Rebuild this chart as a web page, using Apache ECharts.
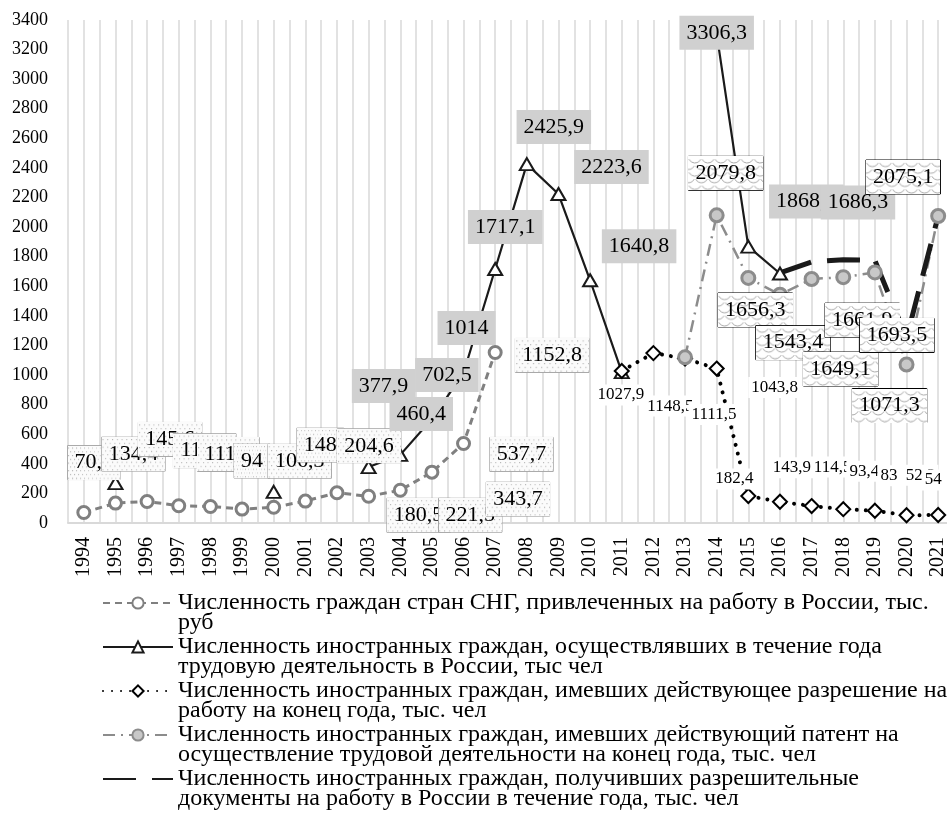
<!DOCTYPE html>
<html>
<head>
<meta charset="utf-8">
<script src="https://cdn.jsdelivr.net/npm/echarts@6/dist/echarts.min.js"></script>
<style>
html, body { margin: 0; padding: 0; background: #fff; }
#chart { width: 947px; height: 835px; }
</style>
</head>
<body>
<div id="chart"></div>
<script>
// years on the category axis
var years = ['1994', '1995', '1996', '1997', '1998', '1999', '2000', '2001', '2002', '2003',
    '2004', '2005', '2006', '2007', '2008', '2009', '2010', '2011', '2012', '2013',
    '2014', '2015', '2016', '2017', '2018', '2019', '2020', '2021'];

// series values, thousand people
var cisWorkers = [70.6, 134.4, 145.6, 116.9, 111.6, 94, 106.3, 148, 204.6, 180.5,
    221.5, 343.7, 537.7, 1152.8, null, null, null, null, null, null,
    null, null, null, null, null, null, null, null];
var foreignWorkers = [null, 270, null, null, null, null, 210, null, null, 377.9,
    460.4, 702.5, 1014, 1717.1, 2425.9, 2223.6, 1640.8, 1020, null, null,
    3306.3, 1868.5, 1686.3, null, null, null, null, null];
var workPermits = [null, null, null, null, null, null, null, null, null, null,
    null, null, null, null, null, null, null, 1027.9, 1148.5, 1111.5,
    1043.8, 182.4, 143.9, 114.5, 93.4, 83, 52.3, 54];
var patents = [null, null, null, null, null, null, null, null, null, null,
    null, null, null, null, null, null, null, null, null, 1120,
    2079.8, 1656.3, 1543.4, 1649.1, 1661.9, 1693.5, 1071.3, 2075.1];
var permitDocs = [null, null, null, null, null, null, null, null, null, null,
    null, null, null, null, null, null, null, null, null, null,
    null, null, 1690, 1765, 1780, 1775, 1250, 2075];

var names = [
    'Численность граждан стран СНГ, привлеченных на работу в России, тыс. руб',
    'Численность иностранных граждан, осуществлявших в течение года трудовую деятельность в России, тыс чел',
    'Численность иностранных граждан, имевших действующее разрешение на работу на конец года, тыс. чел',
    'Численность иностранных граждан, имевших действующий патент на осуществление трудовой деятельности на конец года, тыс. чел',
    'Численность иностранных граждан, получивших разрешительные документы на работу в России в течение года, тыс. чел'
];
var legendText = [
    'Численность граждан стран СНГ, привлеченных на работу в России, тыс.\nруб',
    'Численность иностранных граждан, осуществлявших в течение года\nтрудовую деятельность в России, тыс чел',
    'Численность иностранных граждан, имевших действующее разрешение на\nработу на конец года, тыс. чел',
    'Численность иностранных граждан, имевших действующий патент на\nосуществление трудовой деятельности на конец года, тыс. чел',
    'Численность иностранных граждан, получивших разрешительные\nдокументы на работу в России в течение года, тыс. чел'
];

// where each data label sits relative to its point (layout only)
var cisLabelPos = {1994: [10, -50], 1995: [18, -49], 1996: [23, -62], 1997: [26, -55], 1998: [18, -52],
    1999: [10, -48], 2000: [26, -46], 2001: [15, -56], 2002: [32, -47], 2003: [50, 19],
    2004: [70, 25], 2005: [86, 27], 2006: [58, 11], 2007: [57, 3]};
var foreignLabelPos = {2003: [15, -81], 2004: [21, -41], 2005: [15, -44], 2006: [3, -45], 2007: [10, -42],
    2008: [27, -37], 2009: [53, -27], 2010: [49, -34], 2014: [0, -1], 2015: [58, -45], 2016: [78, -71]};
var permitLabelPos = {2011: [-1, 24], 2012: [17, 53], 2013: [29, 56], 2014: [58, 19], 2015: [-14, -17],
    2016: [12, -34], 2017: [21, -39], 2018: [21, -38], 2019: [14, -35], 2020: [14, -40], 2021: [-5, -35]};
var patentLabelPos = {2014: [9, -42], 2015: [7, 32], 2016: [13, 48], 2017: [29, 90], 2018: [19, 43],
    2019: [22, 63], 2020: [-17, 41], 2021: [-35, -39]};

var serif = 'Liberation Serif';

function makeDots() {
    var c = document.createElement('canvas');
    c.width = 80; c.height = 36;
    var g = c.getContext('2d');
    g.fillStyle = '#fbfbfb';
    g.fillRect(0, 0, 80, 36);
    g.fillStyle = '#b4b4b4';
    for (var y = 2, r = 0; y < 36; y += 4, r++) {
        for (var x = (r % 2) * 3 + 1; x < 80; x += 6) {
            g.fillRect(x, y, 1.2, 1.2);
        }
    }
    return c;
}

function makeScales() {
    var c = document.createElement('canvas');
    c.width = 80; c.height = 36;
    var g = c.getContext('2d');
    g.fillStyle = '#ffffff';
    g.fillRect(0, 0, 80, 36);
    g.strokeStyle = '#a8a8a8';
    g.lineWidth = 1;
    for (var y = 0, r = 0; y < 44; y += 7, r++) {
        for (var x = (r % 2) * 7 - 7; x < 90; x += 14) {
            g.beginPath();
            g.arc(x, y, 7, 0.15 * Math.PI, 0.85 * Math.PI);
            g.stroke();
        }
    }
    return c;
}

function build(values, pos) {
    return values.map(function (v, i) {
        if (v == null) return '-';
        var off = pos[years[i]];
        if (off) return {value: v, label: {show: true, offset: off}};
        return {value: v, label: {show: false}};
    });
}

function fmt(p) {
    return String(p.value).replace('.', ',');
}

var bigLabel = {
    show: true,
    position: 'inside',
    formatter: fmt,
    fontFamily: serif,
    fontSize: 22,
    lineHeight: 24,
    color: '#000',
    padding: [5, 7]
};

var legendFont = {fontFamily: serif, fontSize: 24, lineHeight: 20, color: '#000'};

var chart = echarts.init(document.getElementById('chart'));
chart.setOption({
    backgroundColor: '#fff',
    animation: false,
    textStyle: {fontFamily: serif},
    grid: {left: 68, right: -7, top: 20, bottom: 312, outerBoundsMode: 'none'},
    xAxis: [{
        type: 'category',
        data: years,
        boundaryGap: true,
        axisLine: {lineStyle: {color: '#d9d9d9', width: 2}},
        axisTick: {show: false},
        axisLabel: {rotate: 90, margin: 14, fontFamily: serif, fontSize: 20, color: '#000', interval: 0},
        splitLine: {show: false}
    }, {
        type: 'value',
        min: 0,
        max: 56,
        interval: 1,
        position: 'bottom',
        axisLine: {show: false},
        axisTick: {show: false},
        axisLabel: {show: false},
        splitLine: {show: true, lineStyle: {color: '#d9d9d9', width: 1.5}}
    }],
    yAxis: {
        type: 'value',
        min: 0,
        max: 3400,
        interval: 200,
        axisLine: {show: false},
        axisTick: {show: false},
        splitLine: {show: false},
        axisLabel: {
            margin: 20, fontFamily: serif, fontSize: 18, color: '#000',
            formatter: function (v) { return String(v); }
        }
    },
    legend: {
        orient: 'vertical',
        left: 97,
        top: 566,
        itemWidth: 70,
        itemHeight: 14,
        itemGap: -20,
        data: names.map(function (n) {
            return {name: n, textStyle: legendFont};
        }),
        formatter: function (name) {
            return '\n' + legendText[names.indexOf(name)];
        },
        textStyle: legendFont
    },
    series: [{
        name: names[0],
        type: 'line',
        data: build(cisWorkers, cisLabelPos),
        symbol: 'circle',
        symbolSize: 12,
        showAllSymbol: true,
        itemStyle: {color: '#fff', borderColor: '#808080', borderWidth: 3},
        lineStyle: {color: '#808080', width: 3, type: [7, 5]},
        label: Object.assign({}, bigLabel, {
            backgroundColor: {image: makeDots()},
            borderColor: '#a6a6a6',
            borderWidth: 1
        })
    }, {
        name: names[1],
        type: 'line',
        data: build(foreignWorkers, foreignLabelPos),
        symbol: 'triangle',
        symbolSize: [14, 12],
        showAllSymbol: true,
        itemStyle: {color: '#fff', borderColor: '#1a1a1a', borderWidth: 2},
        lineStyle: {color: '#1a1a1a', width: 2.2},
        label: Object.assign({}, bigLabel, {backgroundColor: '#d0d0d0'})
    }, {
        name: names[2],
        type: 'line',
        data: build(workPermits, permitLabelPos),
        symbol: 'diamond',
        symbolSize: 14,
        showAllSymbol: true,
        itemStyle: {color: '#fff', borderColor: '#000', borderWidth: 2},
        lineStyle: {color: '#000', width: 4, type: [0.01, 9], cap: 'round'},
        label: {
            show: true,
            position: 'inside',
            formatter: fmt,
            fontFamily: serif,
            fontSize: 17,
            color: '#000',
            backgroundColor: '#fff',
            padding: [2, 3]
        }
    }, {
        name: names[3],
        type: 'line',
        data: build(patents, patentLabelPos),
        symbol: 'circle',
        symbolSize: 13,
        showAllSymbol: true,
        itemStyle: {color: '#c8c8c8', borderColor: '#8c8c8c', borderWidth: 3},
        lineStyle: {color: '#8c8c8c', width: 2.5, type: [12, 6, 2, 6]},
        label: Object.assign({}, bigLabel, {
            backgroundColor: {image: makeScales()},
            borderColor: '#000',
            borderWidth: 1
        })
    }, {
        name: names[4],
        type: 'line',
        data: permitDocs,
        symbol: 'none',
        itemStyle: {color: 'rgba(0,0,0,0)', borderWidth: 0},
        lineStyle: {color: '#1a1a1a', width: 5, type: [33, 16]}
    }]
});
</script>
</body>
</html>
